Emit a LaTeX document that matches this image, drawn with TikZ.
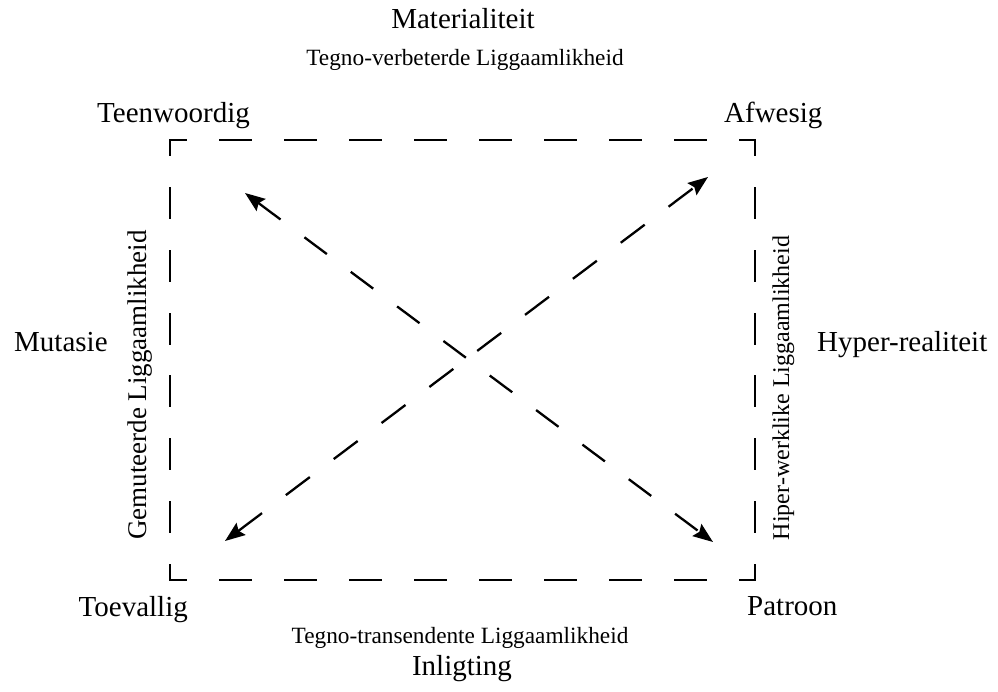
\documentclass[tikz,border=0pt]{standalone}
\usepackage{fontspec}
\setmainfont{Liberation Serif}
\usepackage{tikz}
\usetikzlibrary{arrows.meta,positioning}

\begin{document}
\begin{tikzpicture}[x=1pt,y=-1pt,
    big/.style={font=\fontsize{29}{29}\selectfont,inner sep=0pt},
    small/.style={font=\fontsize{23.3}{23.3}\selectfont,inner sep=0pt},
    frameh/.style={line width=2.5pt,line cap=rect,dash pattern=on 30.5pt off 34.5pt,dash phase=15.25pt},
    framev/.style={line width=2.5pt,line cap=rect,dash pattern=on 29.5pt off 33.36pt,dash phase=14.75pt},
    link/.style={line width=2.3pt,
      {Stealth[length=20pt,width=15pt,inset=3pt]}-{Stealth[length=20pt,width=15pt,inset=3pt]}}]
  \useasboundingbox (0,0) rectangle (998,692);
  % corners of the frame
  \coordinate (tl) at (170,140);
  \coordinate (tr) at (755,140);
  \coordinate (br) at (755,580);
  \coordinate (bl) at (170,580);
  \draw[frameh] (tl) -- (tr);
  \draw[frameh] (bl) -- (br);
  \draw[framev] (tl) -- (bl);
  \draw[framev] (tr) -- (br);
  % labels
  \node[big,anchor=base] (mat) at (463,28.5) {Materialiteit};
  \node[small,anchor=base] (tvl) at (465,66) {Tegno-verbeterde Liggaamlikheid};
  \node[big,anchor=base east] (teen) at (250,123) {Teenwoordig};
  \node[big,anchor=base west] (afw) at (724,123) {Afwesig};
  \node[big,anchor=base west] (mut) at (14,352) {Mutasie};
  \node[big,anchor=base west] (hyp) at (817,352) {Hyper-realiteit};
  \node[big,anchor=base east] (toe) at (188,616) {Toevallig};
  \node[big,anchor=base west] (pat) at (747,615) {Patroon};
  \node[small,anchor=base] (ttl) at (460,643) {Tegno-transendente Liggaamlikheid};
  \node[big,anchor=base] (inl) at (462,675) {Inligting};
  \node[small,font=\fontsize{27}{27}\selectfont,anchor=base,rotate=90] (gml) at (146,385) {Gemuteerde Liggaamlikheid};
  \node[small,font=\fontsize{24}{24}\selectfont,anchor=base,rotate=90] (hwl) at (789,388) {Hiper-werklike Liggaamlikheid};
  % crossing arrows
  \coordinate (a1) at (245,193);
  \coordinate (a2) at (713,542);
  \coordinate (b1) at (225,541);
  \coordinate (b2) at (708,177);
  \draw[link,dash pattern=on 28pt off 29.8pt] (a1) -- (a2);
  \draw[link,dash pattern=on 30pt off 29.9pt] (b1) -- (b2);
\end{tikzpicture}
\end{document}
